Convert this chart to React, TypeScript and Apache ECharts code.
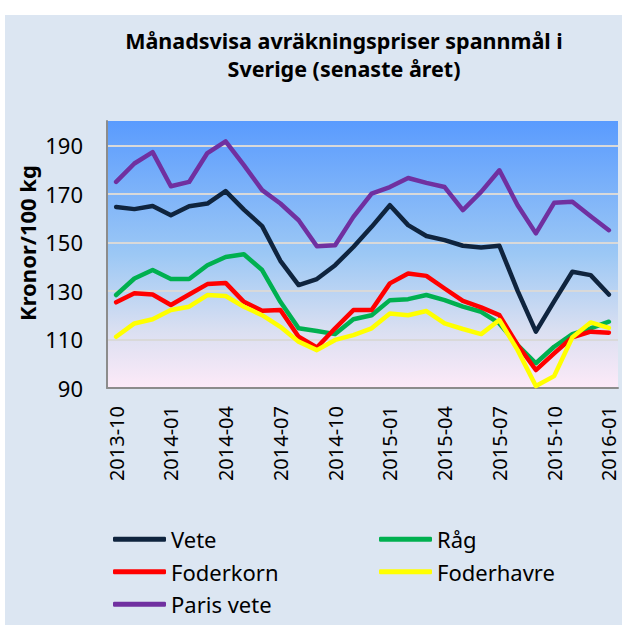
import React, { useEffect, useRef } from "react";
import * as echarts from "echarts";

const categories = [
  "2013-10", "2013-11", "2013-12", "2014-01", "2014-02", "2014-03", "2014-04",
  "2014-05", "2014-06", "2014-07", "2014-08", "2014-09", "2014-10", "2014-11",
  "2014-12", "2015-01", "2015-02", "2015-03", "2015-04", "2015-05", "2015-06",
  "2015-07", "2015-08", "2015-09", "2015-10", "2015-11", "2015-12", "2016-01",
];

const vete = [164.6, 163.7, 165, 161.2, 164.9, 166, 171.1, 163.5, 156.7, 142.4, 132.4, 134.9, 140.6, 148.1, 156.4, 165.3, 157.1, 152.6, 150.9, 148.6, 147.9, 148.6, 130, 113.2, 125.7, 137.9, 136.5, 128.5];
const rag = [128.3, 135.1, 138.6, 134.9, 134.9, 140.6, 144, 145.1, 138.6, 125.5, 114.6, 113.5, 112.2, 118.3, 120, 126.2, 126.6, 128.3, 126.2, 123.5, 121.4, 116.6, 107.7, 100.2, 107, 112.2, 114.6, 117.3];
const foderkorn = [125.3, 129, 128.5, 124.2, 128.5, 132.8, 133.3, 125.5, 121.8, 122.1, 111.1, 106.7, 114.6, 122.1, 122.1, 133.1, 137.2, 136.2, 131, 125.9, 123.2, 120, 107.7, 97.4, 104.3, 110.9, 113.2, 112.8];
const foderhavre = [111.1, 116.6, 118.3, 122.1, 123.5, 128.3, 127.9, 123.5, 120, 115.2, 109.1, 105.6, 109.8, 111.8, 114.6, 120.7, 120, 121.7, 116.6, 114.3, 112.2, 118, 105.6, 90.8, 94.9, 110.9, 117, 114.8];
const parisVete = [174.9, 182.5, 187.2, 173.1, 174.9, 186.8, 191.6, 181.8, 171.5, 166, 159.1, 148.4, 148.8, 160.5, 170.1, 172.8, 176.5, 174.5, 172.8, 163.3, 170.8, 179.7, 165.3, 153.7, 166.3, 166.7, 160.8, 155];

const seriesNames = ["Vete", "Råg", "Foderkorn", "Foderhavre", "Paris vete"];
const seriesColors = ["#0f243e", "#00b050", "#ff0000", "#ffff00", "#7030a0"];
const seriesData = [vete, rag, foderkorn, foderhavre, parisVete];

const titleLines = ["Månadsvisa avräkningspriser spannmål i", "Sverige (senaste året)"];
const yAxisTitle = "Kronor/100 kg";

const FONT = "'Noto Sans', 'DejaVu Sans', sans-serif";

export default function App() {
  const ref = useRef<HTMLDivElement>(null);

  useEffect(() => {
    if (!ref.current) return;
    const chart = echarts.init(ref.current, undefined, { renderer: "svg" });
    chart.setOption({
      animation: false,
      backgroundColor: "#dce6f2",
      textStyle: { fontFamily: FONT },
      graphic: [
        {
          type: "text",
          x: 339,
          y: 25,
          style: {
            text: titleLines[0],
            align: "center",
            verticalAlign: "middle",
            fontFamily: FONT,
            fontSize: 21.5,
            fontWeight: "bold",
            fill: "#000",
          },
        },
        {
          type: "text",
          x: 339,
          y: 53,
          style: {
            text: titleLines[1],
            align: "center",
            verticalAlign: "middle",
            fontFamily: FONT,
            fontSize: 21.5,
            fontWeight: "bold",
            fill: "#000",
          },
        },
        {
          type: "text",
          x: 22,
          y: 228,
          rotation: Math.PI / 2,
          style: {
            text: yAxisTitle,
            align: "center",
            verticalAlign: "middle",
            fontFamily: FONT,
            fontSize: 22,
            fontWeight: "bold",
            fill: "#000",
          },
        },
      ],
      grid: {
        left: 102,
        top: 106,
        right: 4,
        bottom: 237,
        show: true,
        borderWidth: 0,
        backgroundColor: new echarts.graphic.LinearGradient(0, 0, 0, 1, [
          { offset: 0, color: "#5a9bfe" },
          { offset: 0.5, color: "#9cc8f5" },
          { offset: 0.78, color: "#d9dff1" },
          { offset: 1, color: "#fdeaf8" },
        ]),
      },
      legend: {
        left: 103,
        top: 508,
        width: 530,
        itemWidth: 53,
        itemHeight: 5,
        itemGap: 10,
        icon: "roundRect",
        selectedMode: false,
        data: seriesNames,
        textStyle: {
          fontFamily: FONT,
          fontSize: 22,
          color: "#000",
          width: 198,
          lineHeight: 22.5,
        },
      },
      xAxis: {
        type: "category",
        data: categories,
        boundaryGap: true,
        axisLine: { show: true, lineStyle: { color: "#8c8c8c", width: 2 } },
        axisTick: { show: false },
        axisLabel: {
          interval: 2,
          rotate: 90,
          margin: 18,
          fontFamily: FONT,
          fontSize: 20,
          color: "#000",
        },
        splitLine: { show: false },
      },
      yAxis: {
        type: "value",
        min: 90,
        max: 200,
        interval: 20,
        axisLine: { show: true, lineStyle: { color: "#8c8c8c", width: 2 } },
        axisTick: { show: false },
        axisLabel: {
          margin: 24,
          fontFamily: FONT,
          fontSize: 22,
          color: "#000",
          showMaxLabel: false,
        },
        splitLine: {
          show: true,
          showMaxLine: false,
          showMinLine: false,
          lineStyle: { color: "#d9d9d9", width: 2 },
        },
      },
      series: seriesNames.map((name, i) => ({
        name,
        type: "line",
        data: seriesData[i],
        showSymbol: false,
        symbol: "none",
        smooth: false,
        color: seriesColors[i],
        lineStyle: { color: seriesColors[i], width: 4.5, cap: "round", join: "round" },
        emphasis: { disabled: true },
      })),
    });
    return () => chart.dispose();
  }, []);

  return (
    <div style={{ position: "absolute", left: 0, top: 0, width: 622, height: 625, background: "#fff" }}>
      <div ref={ref} style={{ position: "absolute", left: 5, top: 15, width: 617, height: 610 }} />
    </div>
  );
}
